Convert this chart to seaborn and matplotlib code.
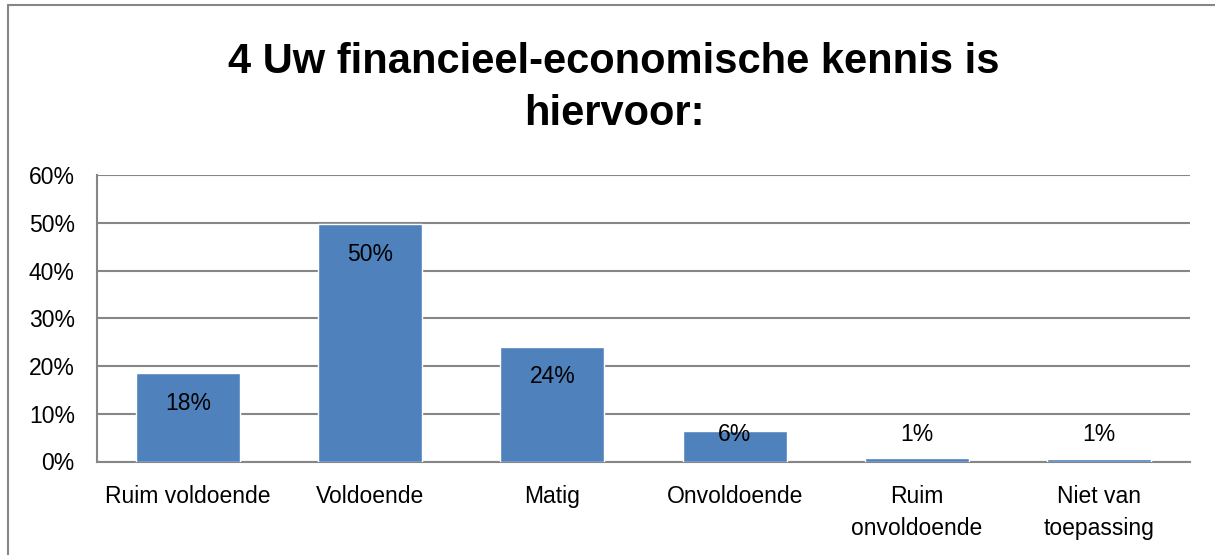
import matplotlib
matplotlib.use("Agg")
import matplotlib.pyplot as plt
from matplotlib.lines import Line2D
from matplotlib.ticker import PercentFormatter
import seaborn as sns
import pandas as pd

# Data
categories = ["Ruim voldoende", "Voldoende", "Matig", "Onvoldoende",
              "Ruim\nonvoldoende", "Niet van\ntoepassing"]
shares = [0.185, 0.497, 0.240, 0.064, 0.008, 0.006]
y_ticks = [0.0, 0.1, 0.2, 0.3, 0.4, 0.5, 0.6]
title = "4 Uw financieel-economische kennis is\nhiervoor:"

bar_color = "#4F81BD"
grid_color = "#868686"

sns.set_theme(style="white")
plt.rcParams["font.family"] = ["Liberation Sans", "DejaVu Sans"]
plt.rcParams["text.color"] = "black"

df = pd.DataFrame({"categorie": categories, "aandeel": shares})

fig = plt.figure(figsize=(12.15, 5.55), dpi=100)
ax = fig.add_axes([97 / 1215, 1 - 461.5 / 555, 1093 / 1215, (461.5 - 175) / 555])

sns.barplot(data=df, x="categorie", y="aandeel", color=bar_color,
            width=0.57, saturation=1, ax=ax, zorder=3)

ax.set_ylim(0, 0.6)
ax.set_xlim(-0.5, len(categories) - 0.5)
ax.set_yticks(y_ticks)
ax.yaxis.set_major_formatter(PercentFormatter(1.0, decimals=0))
ax.set_xlabel("")
ax.set_ylabel("")
ax.tick_params(axis="both", length=0, labelsize=16.5, colors="black")
ax.tick_params(axis="x", pad=17)
ax.tick_params(axis="y", pad=16)
for lab in ax.get_xticklabels():
    lab.set_linespacing(1.5)
    lab.set_verticalalignment("top")

ax.grid(axis="y", color=grid_color, linewidth=1.5, zorder=0)
for side in ["top", "right"]:
    ax.spines[side].set_visible(False)
for side in ["left", "bottom"]:
    ax.spines[side].set_color(grid_color)
    ax.spines[side].set_linewidth(1.5)

# data labels, inside the top of the bar (kept above the axis for tiny bars)
for i, v in enumerate(shares):
    ax.text(i, max(v - 0.063, 0.057), f"{v:.0%}", ha="center", va="center",
            fontsize=16.5, color="black", zorder=4)

fig.text(614 / 1215, 1 - 88 / 555, title, ha="center", va="center",
         fontsize=30, fontweight="bold", linespacing=1.38, color="black")

# outer chart frame (only the left and top edges are in view)
fig.add_artist(Line2D([8 / 1215, 8 / 1215], [0, 1 - 5 / 555],
                      transform=fig.transFigure, color=grid_color, linewidth=1.5))
fig.add_artist(Line2D([8 / 1215, 1], [1 - 5 / 555, 1 - 5 / 555],
                      transform=fig.transFigure, color=grid_color, linewidth=1.5))

fig.savefig("out.png", dpi=100)
